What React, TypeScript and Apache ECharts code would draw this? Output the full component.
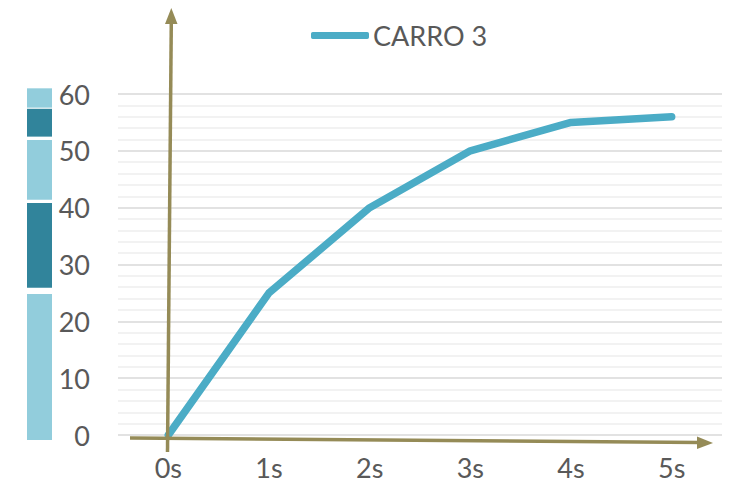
import React, { useEffect, useRef } from "react";
import * as echarts from "echarts";

const categories = ["0s", "1s", "2s", "3s", "4s", "5s"];
const carro3 = [0, 25, 40, 50, 55, 56];
const seriesName = "CARRO 3";
const yTicks = { min: 0, max: 60, interval: 10 };
// decorative colour band on the left, in value units of the y scale
const bandStart = [-0.9, 25.9, 41.4, 52.5, 57.6];
const bandEnd = [24.8, 40.8, 51.9, 57.4, 61.0];

const FONT = "Lato, 'Open Sans', sans-serif";
const TXT = "#595959";
const ARROW = "#958b57";
const LINE = "#4bacc6";

export default function App() {
  const ref = useRef<HTMLDivElement>(null);
  useEffect(() => {
    if (!ref.current) return;
    const chart = echarts.init(ref.current, undefined, { renderer: "svg" });
    const bandData = bandStart.map((s, i) => [0, s, bandEnd[i]]);
    chart.setOption({
      animation: false,
      backgroundColor: "#ffffff",
      textStyle: { fontFamily: FONT },
      legend: {
        data: [{ name: seriesName, icon: "roundRect", itemStyle: { color: LINE } }],
        left: 306,
        top: 17,
        itemWidth: 58,
        itemHeight: 7,
        itemGap: 0,
        textStyle: { fontSize: 27, color: TXT, fontFamily: FONT, padding: [0, 0, 0, -1] },
      },
      grid: [
        { left: 118, right: 8, top: 94, bottom: 56 },
        { left: 27, width: 25, top: 94, bottom: 56 },
      ],
      xAxis: [
        {
          type: "category",
          gridIndex: 0,
          data: categories,
          boundaryGap: true,
          axisLine: { show: false },
          axisTick: { show: false },
          axisLabel: { fontSize: 27, color: TXT, fontFamily: FONT, margin: 19 },
          splitLine: { show: false },
        },
        {
          type: "category",
          gridIndex: 1,
          data: ["band"],
          show: false,
        },
      ],
      yAxis: [
        {
          type: "value",
          gridIndex: 0,
          min: yTicks.min,
          max: yTicks.max,
          interval: yTicks.interval,
          axisLine: { show: false },
          axisTick: { show: false },
          axisLabel: { fontSize: 27, color: TXT, fontFamily: FONT, margin: 28, padding: [0, 0, 3, 0] },
          splitLine: { show: true, lineStyle: { color: "#d9d9d9", width: 1.5 } },
          minorTick: { show: false, splitNumber: 5 },
          minorSplitLine: { show: true, lineStyle: { color: "#eeeeee", width: 1.5 } },
        },
        {
          type: "value",
          gridIndex: 1,
          min: yTicks.min,
          max: yTicks.max,
          show: false,
        },
      ],
      series: [
        {
          type: "custom",
          xAxisIndex: 1,
          yAxisIndex: 1,
          clip: false,
          silent: true,
          data: bandData,
          renderItem: (params: any, api: any) => {
            const top = api.coord([0, api.value(2)]);
            const bot = api.coord([0, api.value(1)]);
            const w = api.size([1, 0])[0];
            const dark = params.dataIndex % 2 === 1;
            return {
              type: "rect",
              shape: { x: top[0] - w / 2, y: top[1], width: w, height: bot[1] - top[1] },
              style: { fill: dark ? "#31849b" : "#92cddc" },
            };
          },
        },
        {
          name: seriesName,
          type: "line",
          xAxisIndex: 0,
          yAxisIndex: 0,
          data: carro3,
          showSymbol: false,
          symbol: "none",
          lineStyle: { color: LINE, width: 7.5, cap: "round", join: "round" },
          itemStyle: { color: LINE },
          z: 3,
        },
      ],
      graphic: [
        {
          type: "line",
          shape: { x1: 130, y1: 438, x2: 700, y2: 442.5 },
          style: { stroke: ARROW, lineWidth: 3.5 },
          z: 10,
        },
        {
          type: "polygon",
          shape: { points: [[713, 443], [697, 436.5], [697, 449]] },
          style: { fill: ARROW },
          z: 10,
        },
        {
          type: "line",
          shape: { x1: 167.5, y1: 452, x2: 171.3, y2: 22 },
          style: { stroke: ARROW, lineWidth: 3.5 },
          z: 10,
        },
        {
          type: "polygon",
          shape: { points: [[171.3, 8], [165, 24], [177.5, 24]] },
          style: { fill: ARROW },
          z: 10,
        },
      ],
    });
    return () => chart.dispose();
  }, []);
  return <div ref={ref} style={{ width: 730, height: 491, position: "absolute", left: 0, top: 0 }} />;
}
